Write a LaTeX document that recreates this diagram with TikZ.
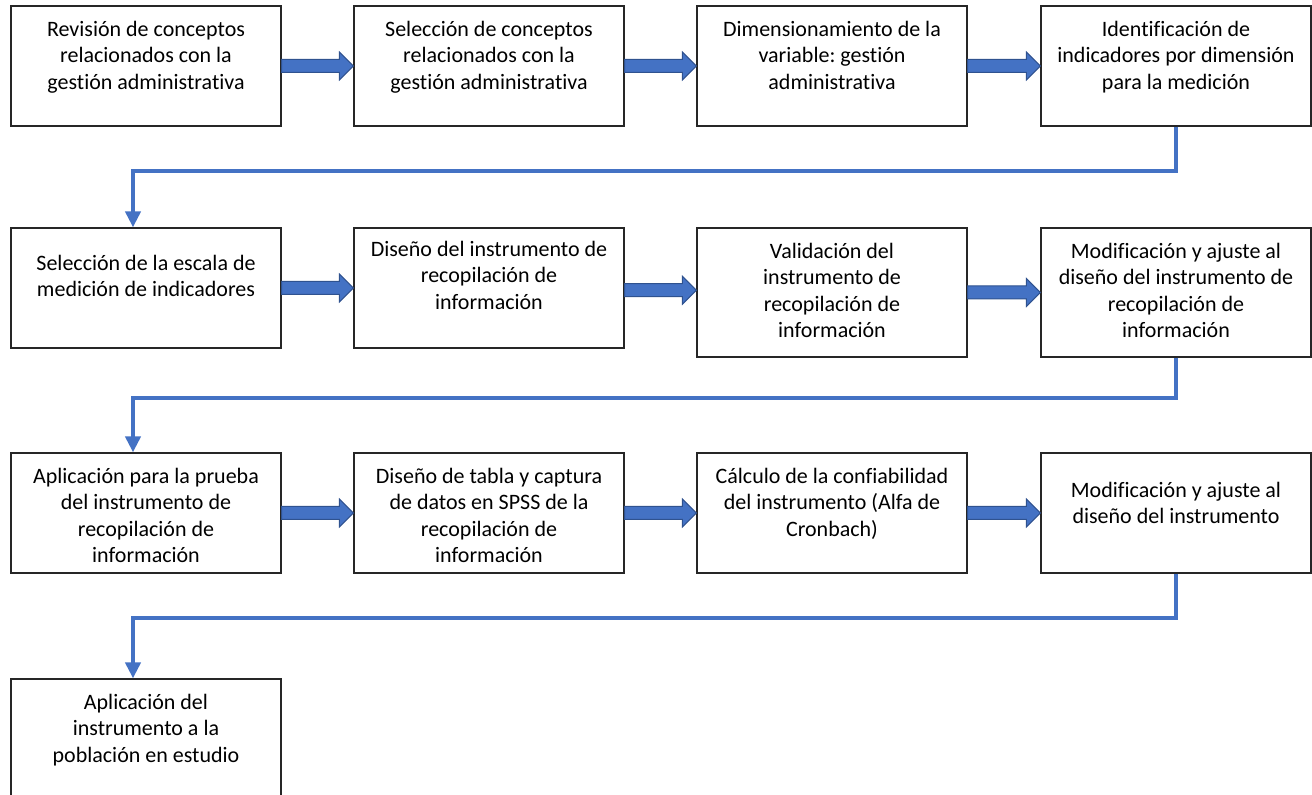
\documentclass[tikz,border=0pt]{standalone}
\usepackage{fontspec}
\setmainfont{Carlito}[Ligatures=NoCommon]
\usetikzlibrary{calc,arrows.meta}

\definecolor{arrblue}{HTML}{4472C4}
\definecolor{arredge}{HTML}{2F528F}

\tikzset{
  box/.style={rectangle, draw=black!85, line width=0.6pt, fill=white,
    minimum width=135pt, minimum height=60pt, inner sep=0pt},
  tallbox/.style={box, minimum height=64.5pt},
  txt/.style={anchor=north, align=center, inner sep=0pt,
    font=\fontsize{11}{13.3}\selectfont\frenchspacing},
  barrow/.style={fill=arrblue, draw=arredge, line width=0.5pt, line join=miter},
  elbow/.style={draw=arrblue, line width=2pt, -{Triangle[width=7.5pt,length=8pt]}}
}

% block arrow between two boxes of one row
\newcommand{\blockarr}[2]{%
  \path ($(#1.east)!.5!(#2.west)$) coordinate (m);
  \filldraw[barrow] ($(#1.east |- m)+(0,-6.5)$) -- ($(#2.west |- m)+(-14,-6.5)$)
    -- ($(#2.west |- m)+(-14,-14)$) -- (#2.west |- m) -- ($(#2.west |- m)+(-14,14)$)
    -- ($(#2.west |- m)+(-14,6.5)$) -- ($(#1.east |- m)+(0,6.5)$) -- cycle;}

\begin{document}
\begin{tikzpicture}[x=0.5pt, y=-0.5pt]
    \clip (0,0) rectangle (1312,795);

    % first row
    \node[box] (b11) at (146,66)  {};
    \node[box] (b12) at (489,66)  {};
    \node[box] (b13) at (832,66)  {};
    \node[box] (b14) at (1176,66) {};

    % second row
    \node[box]     (b21) at (146,288)    {};
    \node[box]     (b22) at (489,288)    {};
    \node[tallbox] (b23) at (832,292.5)  {};
    \node[tallbox] (b24) at (1176,292.5) {};

    % third row
    \node[box] (b31) at (146,513)  {};
    \node[box] (b32) at (489,513)  {};
    \node[box] (b33) at (832,513)  {};
    \node[box] (b34) at (1176,513) {};

    % last step
    \node[box] (b41) at (146,739) {};

    \node[txt] (t11) at ($(b11.north)+(0,15)$) {Revisión de conceptos\\relacionados con la\\gestión administrativa};
    \node[txt] (t12) at ($(b12.north)+(0,15)$) {Selección de conceptos\\relacionados con la\\gestión administrativa};
    \node[txt] (t13) at ($(b13.north)+(0,15)$) {Dimensionamiento de la\\variable: gestión\\administrativa};
    \node[txt] (t14) at ($(b14.north)+(0,15)$) {Identificación de\\indicadores por dimensión\\para la medición};

    \node[txt] (t21) at ($(b21.north)+(0,27)$) {Selección de la escala de\\medición de indicadores};
    \node[txt] (t22) at ($(b22.north)+(0,13)$) {Diseño del instrumento de\\recopilación de\\información};
    \node[txt] (t23) at ($(b23.north)+(0,15)$) {Validación del\\instrumento de\\recopilación de\\información};
    \node[txt] (t24) at ($(b24.north)+(0,15)$) {Modificación y ajuste al\\diseño del instrumento de\\recopilación de\\información};

    \node[txt] (t31) at ($(b31.north)+(0,15)$) {Aplicación para la prueba\\del instrumento de\\recopilación de\\información};
    \node[txt] (t32) at ($(b32.north)+(0,15)$) {Diseño de tabla y captura\\de datos en SPSS de la\\recopilación de\\información};
    \node[txt] (t33) at ($(b33.north)+(0,15)$) {Cálculo de la confiabilidad\\del instrumento (Alfa de\\Cronbach)};
    \node[txt] (t34) at ($(b34.north)+(0,29)$) {Modificación y ajuste al\\diseño del instrumento};

    \node[txt] (t41) at ($(b41.north)+(0,15)$) {Aplicación del\\instrumento a la\\población en estudio};

    % arrows along the rows
    \foreach \a/\b in {b11/b12, b12/b13, b13/b14, b21/b22, b22/b23, b23/b24, b31/b32, b32/b33, b33/b34}
        \blockarr{\a}{\b};

    % back to the first column
    \draw[elbow] (b14.south) -- ++(0,44) -| ($(b21.north)+(-13,0)$);
    \draw[elbow] (b24.south) -- ++(0,40) -| ($(b31.north)+(-13,0)$);
    \draw[elbow] (b34.south) -- ++(0,44) -| ($(b41.north)+(-13,0)$);
\end{tikzpicture}
\end{document}
